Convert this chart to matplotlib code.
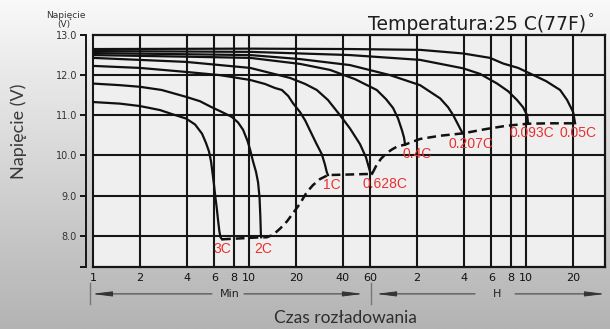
import numpy as np
import matplotlib.pyplot as plt
from matplotlib.colors import LinearSegmentedColormap
from matplotlib.ticker import FixedLocator, NullLocator

# discharge time in minutes, terminal voltage in V
t_3c = [1, 1.49, 2.0, 2.69, 3.21, 3.95, 4.52, 5.01, 5.31, 5.55, 5.72, 5.85, 5.98,
        6.10, 6.22, 6.34, 6.47, 6.58, 6.73]
v_3c = [11.33, 11.29, 11.23, 11.13, 11.03, 10.92, 10.77, 10.54, 10.31, 10.10, 9.85,
        9.56, 9.26, 8.96, 8.70, 8.40, 8.11, 7.96, 7.91]

t_2c = [1, 1.49, 2.0, 2.76, 3.95, 4.86, 5.78, 6.73, 7.77, 8.53, 9.18, 9.81, 10.18,
        10.64, 11.12, 11.46, 11.71, 11.85, 11.95, 12.0]
v_2c = [11.79, 11.75, 11.71, 11.63, 11.46, 11.35, 11.20, 11.08, 10.96, 10.82, 10.64,
        10.36, 10.15, 9.85, 9.59, 9.33, 8.96, 8.49, 8.03, 7.96]

t_1c = [1, 2.0, 3.95, 6.53, 10.2, 12.7, 14.7, 16.3, 17.9, 19.2, 21.3, 23.0, 24.7,
        27.0, 29.4, 30.8, 31.6, 32.2]
v_1c = [12.23, 12.18, 12.08, 12.00, 11.88, 11.78, 11.68, 11.63, 11.48, 11.30, 11.08,
        10.87, 10.62, 10.31, 10.03, 9.77, 9.59, 9.51]

t_0628 = [1, 3.95, 10.2, 18.4, 23.0, 27.3, 32.2, 38.5, 44.6, 51.7, 56.5, 60.0, 61.8]
v_0628 = [12.43, 12.33, 12.18, 11.93, 11.78, 11.63, 11.38, 11.00, 10.67, 10.28, 9.95,
          9.59, 9.54]

t_04 = [1, 3.95, 10.2, 21.3, 33.2, 48.0, 66.2, 76.0, 84.3, 90.7, 96.2, 99.1, 100.6]
v_04 = [12.50, 12.46, 12.43, 12.28, 12.13, 11.90, 11.63, 11.40, 11.18, 10.92, 10.62,
        10.44, 10.27]

t_0207 = [1, 10.2, 21.3, 44.6, 80.6, 125.6, 169, 190, 205, 220, 234, 237]
v_0207 = [12.55, 12.50, 12.40, 12.25, 12.00, 11.75, 11.42, 11.20, 11.00, 10.77, 10.57,
          10.55]

t_0093 = [1, 10.2, 44.6, 125.6, 237, 305, 392, 461, 526, 575, 611, 620]
v_0093 = [12.60, 12.58, 12.50, 12.38, 12.17, 12.03, 11.79, 11.60, 11.38, 11.20, 11.00,
          10.79]

t_005 = [1, 10.2, 44.6, 125.6, 237, 353, 428, 535, 638, 809, 994, 1103, 1205, 1241]
v_005 = [12.65, 12.66, 12.65, 12.63, 12.54, 12.43, 12.29, 12.18, 12.04, 11.85, 11.63,
         11.38, 11.08, 10.80]

# end-of-discharge voltage line
t_end = [6.73, 12.0, 13.0, 14.3, 15.9, 17.6, 19.2, 21.3, 23.5, 25.8, 28.6, 32.2,
         61.8, 66.2, 70.6, 76.8, 83.0, 89.4, 100.6, 125.6, 168.7, 237, 336, 452,
         620, 857, 1241]
v_end = [7.91, 7.96, 7.96, 8.02, 8.18, 8.36, 8.56, 8.80, 9.08, 9.26, 9.41, 9.51,
         9.54, 9.77, 9.92, 10.06, 10.15, 10.22, 10.27, 10.41, 10.49, 10.55, 10.66,
         10.74, 10.79, 10.80, 10.80]

rate_names = ['3C', '2C', '1C', '0.628C', '0.4C', '0.207C', '0.093C', '0.05C']
label_shift = [(0, -10), (2, -12), (4, -10), (13, -10), (12, -9), (8, -11), (4, -9), (3, -10)]

xtick_pos = [1, 2, 4, 6, 8, 10, 20, 40, 60, 120, 240, 360, 480, 600, 1200]
xtick_lab = ['1', '2', '4', '6', '8', '10', '20', '40', '60', '2', '4', '6', '8', '10', '20']
ytick_pos = [8, 9, 10, 11, 12, 13]

curves = [(t_3c, v_3c), (t_2c, v_2c), (t_1c, v_1c), (t_0628, v_0628),
          (t_04, v_04), (t_0207, v_0207), (t_0093, v_0093), (t_005, v_005)]

fig = plt.figure(figsize=(6.1, 3.29), dpi=100)

# grey gradient background
bg = fig.add_axes([0, 0, 1, 1], zorder=-10)
bg_cmap = LinearSegmentedColormap.from_list('bg', ['#f9f9f9', '#b3b3b3'])
bg.imshow(np.linspace(0, 1, 256).reshape(-1, 1), aspect='auto', cmap=bg_cmap,
          extent=[0, 1, 0, 1])
bg.axis('off')

W, H = 610.0, 329.0
ax = fig.add_axes([93 / W, 1 - 267 / H, (605 - 93) / W, (267 - 35) / H])
ax.set_facecolor('#efefef')
ax.set_xscale('log')
ax.set_xlim(1, 1930)
ax.set_ylim(7.22, 13.0)

line_c = '#161616'
for x in xtick_pos:
    ax.axvline(x, color=line_c, lw=1.5, zorder=1, clip_on=False)
for y in ytick_pos[:-1]:
    ax.axhline(y, color=line_c, lw=1.5, zorder=1)

for (t, v) in curves:
    ax.plot(t, v, color='#111111', lw=1.6, zorder=3, solid_joinstyle='round')
ax.plot(t_end, v_end, color='#111111', lw=1.8, ls=(0, (3.5, 2)), zorder=3)

for (t, v), name, off in zip(curves, rate_names, label_shift):
    ax.annotate(name, xy=(t[-1], v[-1]), xytext=off, textcoords='offset pixels',
                ha='center', va='center', color='#e8312f', fontsize=10,
                family='Liberation Sans', zorder=5)

ax.xaxis.set_major_locator(FixedLocator(xtick_pos))
ax.xaxis.set_minor_locator(NullLocator())
ax.set_xticklabels(xtick_lab)
ax.tick_params(axis='x', length=0, pad=4, labelsize=8, labelcolor='#111111')

ax.yaxis.set_major_locator(FixedLocator(ytick_pos))
ax.yaxis.set_minor_locator(FixedLocator([7.22]))
ax.set_yticklabels(['%.1f' % y for y in ytick_pos])
ax.tick_params(axis='y', which='both', direction='out', length=4.5, width=1.4,
               pad=2, labelsize=7, labelcolor='#333333', color='#111111')

for s in ['top', 'right', 'bottom']:
    ax.spines[s].set_linewidth(1.6)
    ax.spines[s].set_color(line_c)
ax.spines['left'].set_position(('outward', 5))
ax.spines['left'].set_linewidth(1.4)
ax.spines['left'].set_color(line_c)

# Min / H span arrows under the time axis
tr = ax.get_xaxis_transform()
arrow_kw = dict(arrowstyle='-|>,head_length=1.2,head_width=0.15', color='#333333',
                lw=0.7, shrinkA=0, shrinkB=0)
y_ar = -0.116
for xs in [0.96, 60.9]:
    ax.plot([xs, xs], [-0.069, -0.159], transform=tr, color='#777777', lw=1.0, clip_on=False)
ax.annotate('', xy=(0.985, y_ar), xytext=(5.8, y_ar), xycoords=tr, arrowprops=arrow_kw)
ax.annotate('', xy=(54, y_ar), xytext=(9.3, y_ar), xycoords=tr, arrowprops=arrow_kw)
ax.text(7.5, y_ar, 'Min', transform=tr, ha='center', va='center', fontsize=8, color='#222222')
ax.annotate('', xy=(65.5, y_ar), xytext=(283, y_ar), xycoords=tr, arrowprops=arrow_kw)
ax.annotate('', xy=(1930, y_ar), xytext=(511, y_ar), xycoords=tr, arrowprops=arrow_kw)
ax.text(392, y_ar, 'H', transform=tr, ha='center', va='center', fontsize=8, color='#222222')

fig.text(66 / W, 1 - 15 / H, 'Napięcie', ha='center', va='center', fontsize=6.5, color='#333333')
fig.text(64 / W, 1 - 24 / H, '(V)', ha='center', va='center', fontsize=6.5, color='#333333')

temp = fig.text(368 / W, 1 - 30 / H, 'Temperatura:25 C(77F)', ha='left', va='baseline',
                fontsize=13.5, color='#1e1e1e')
ax.annotate('°', xy=(1, 1), xycoords=temp, xytext=(1, 2), textcoords='offset points',
            ha='left', va='top', fontsize=9, color='#1e1e1e')

fig.text(19 / W, 1 - 131 / H, 'Napięcie (V)', rotation=90, ha='center', va='center',
         fontsize=13, family='Lato', color='#3a3a3a')
fig.text(345 / W, 1 - 318 / H, 'Czas rozładowania', ha='center', va='center',
         fontsize=12.5, family='Lato', color='#2e2e2e')

fig.savefig('out.png', dpi=100)
